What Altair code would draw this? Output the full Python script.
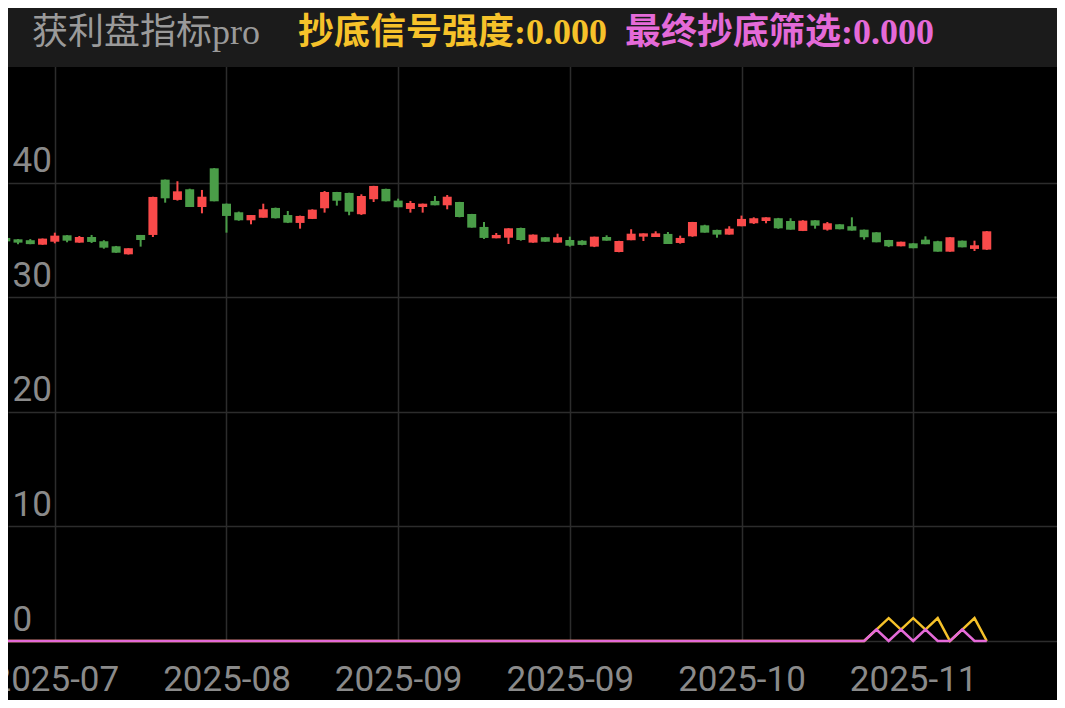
import altair as alt
import pandas as pd

# ---------------- data ----------------
# trading days (Mainland China, National Day holiday Oct 1-8 closed)
trade_dates = [d.strftime("%Y-%m-%d") for d in pd.bdate_range("2025-07-21", "2025-11-18")
               if not ("2025-10-01" <= d.strftime("%Y-%m-%d") <= "2025-10-08")]

open_ = [35.20, 35.08, 35.00, 34.61, 34.87, 35.43, 34.79, 35.28, 34.91, 34.47,
         33.77, 35.46, 35.46, 40.29, 38.52, 39.45, 37.90, 41.28, 38.19, 37.44,
         36.74, 36.97, 37.82, 37.20, 36.51, 36.86, 37.79, 39.21, 39.13, 37.27,
         38.58, 39.48, 38.46, 37.73, 37.90, 38.43, 38.05, 38.34, 37.29, 36.16,
         35.17, 35.22, 36.07, 34.79, 35.26, 34.79, 35.02, 34.96, 34.44, 35.28,
         33.97, 35.00, 35.31, 35.28, 35.55, 34.76, 35.34, 36.30, 35.90, 35.49,
         36.22, 36.48, 36.68, 36.92, 36.68, 35.81, 36.74, 35.92, 36.39, 36.22,
         35.92, 35.69, 35.02, 34.47, 34.73, 35.05, 34.91, 34.00, 34.96, 34.24,
         34.18]
high = [35.30, 35.10, 35.10, 35.15, 35.66, 35.45, 35.37, 35.46, 35.00, 34.50,
        34.30, 35.46, 38.80, 40.30, 40.15, 39.50, 39.39, 41.30, 38.20, 37.50,
        37.20, 38.19, 37.85, 37.55, 37.15, 37.70, 39.30, 39.22, 39.15, 39.01,
        39.75, 39.50, 38.63, 38.43, 38.20, 38.86, 38.95, 38.35, 37.30, 36.59,
        35.63, 36.05, 36.10, 35.50, 35.27, 35.57, 35.31, 35.00, 35.31, 35.43,
        34.95, 35.96, 35.60, 35.78, 35.72, 35.40, 36.60, 36.35, 35.92, 36.22,
        37.15, 37.00, 37.00, 36.95, 36.92, 36.75, 36.75, 36.59, 36.40, 37.00,
        35.93, 35.70, 35.03, 34.87, 34.74, 35.34, 34.95, 35.26, 34.97, 34.96,
        35.80]
low = [34.80, 34.65, 34.65, 34.60, 34.73, 34.82, 34.78, 34.76, 34.26, 33.90,
       33.75, 34.44, 35.28, 38.28, 38.46, 37.90, 37.35, 38.40, 35.66, 36.70,
       36.39, 36.97, 36.90, 36.50, 36.01, 36.85, 37.41, 38.02, 37.18, 37.21,
       38.34, 38.40, 37.88, 37.41, 37.41, 38.05, 37.70, 37.00, 36.10, 35.11,
       35.17, 34.67, 34.96, 34.78, 34.86, 34.78, 34.44, 34.56, 34.40, 34.96,
       33.95, 35.00, 34.93, 35.28, 34.67, 34.70, 35.30, 35.66, 35.22, 35.49,
       36.22, 36.42, 36.48, 36.00, 35.92, 35.80, 36.01, 35.84, 35.95, 35.84,
       35.05, 34.82, 34.40, 34.47, 34.30, 34.65, 34.00, 34.00, 34.38, 34.06,
       34.15]
close = [34.90, 34.79, 34.66, 35.14, 35.40, 34.96, 35.28, 34.85, 34.35, 33.91,
         34.30, 35.02, 38.78, 38.66, 39.27, 37.90, 38.80, 38.40, 37.12, 36.74,
         37.20, 37.70, 36.92, 36.53, 37.12, 37.67, 39.21, 38.45, 37.49, 38.86,
         39.74, 38.40, 37.88, 38.25, 38.19, 38.05, 38.80, 37.03, 36.10, 35.20,
         35.46, 36.04, 35.02, 35.49, 34.87, 35.26, 34.52, 34.59, 35.31, 34.96,
         34.93, 35.57, 35.60, 35.60, 34.67, 35.20, 36.59, 35.66, 35.49, 36.01,
         36.86, 36.92, 37.00, 36.04, 35.92, 36.71, 36.27, 36.48, 35.96, 35.84,
         35.26, 34.82, 34.47, 34.87, 34.30, 34.65, 34.00, 35.26, 34.38, 34.56,
         35.78]
# 抄底信号强度 (yellow) and 最终抄底筛选 (pink)
signal_strength = [0, 0, 0, 0, 0, 0, 0, 0, 0, 0,
                   0, 0, 0, 0, 0, 0, 0, 0, 0, 0,
                   0, 0, 0, 0, 0, 0, 0, 0, 0, 0,
                   0, 0, 0, 0, 0, 0, 0, 0, 0, 0,
                   0, 0, 0, 0, 0, 0, 0, 0, 0, 0,
                   0, 0, 0, 0, 0, 0, 0, 0, 0, 0,
                   0, 0, 0, 0, 0, 0, 0, 0, 0, 0,
                   0, 1, 2, 1, 2, 1, 2, 0, 1, 2,
                   0]
final_filter = [0, 0, 0, 0, 0, 0, 0, 0, 0, 0,
                0, 0, 0, 0, 0, 0, 0, 0, 0, 0,
                0, 0, 0, 0, 0, 0, 0, 0, 0, 0,
                0, 0, 0, 0, 0, 0, 0, 0, 0, 0,
                0, 0, 0, 0, 0, 0, 0, 0, 0, 0,
                0, 0, 0, 0, 0, 0, 0, 0, 0, 0,
                0, 0, 0, 0, 0, 0, 0, 0, 0, 0,
                0, 1, 0, 1, 0, 1, 0, 0, 1, 0,
                0]
y_ticks = [0, 10, 20, 30, 40]
x_tick_idx = [4, 18, 32, 46, 60, 74]

df = pd.DataFrame({
    "n": list(range(len(trade_dates))),
    "date": trade_dates,
    "open": open_, "high": high, "low": low, "close": close,
    "strength": signal_strength, "final": final_filter,
})
df["dir"] = ["up" if c >= o else "down" for o, c in zip(open_, close)]

x_labels = [trade_dates[i][:7] for i in x_tick_idx]
label_expr = "".join(f"datum.value == {i} ? '{lab}' : " for i, lab in zip(x_tick_idx, x_labels)) + "''"

# ---------------- styling ----------------
W, H = 1049, 633
RED, GREEN = "#f94a4a", "#4a9d48"
YELLOW, PINK = "#f6c22a", "#e46ad8"
GRID = "#2c2c2c"
AXIS_FONT = "Roboto"
AXIS_SIZE = 35

xscale = alt.Scale(domain=[0.591, 85.32], nice=False, zero=False)
yscale = alt.Scale(domain=[0, 55.28], nice=False, zero=False)

x_axis = alt.Axis(values=x_tick_idx, labelExpr=label_expr, grid=True, gridColor=GRID,
                  gridWidth=1.5, domain=False, ticks=False, tickSize=0, labelPadding=21,
                  labelFont=AXIS_FONT, labelFontSize=AXIS_SIZE, labelColor="#8a8a8a",
                  labelOverlap=False, labelFlush=False, title=None)
y_axis = alt.Axis(values=y_ticks, grid=True, gridColor=GRID, gridWidth=1.5, domain=False,
                  ticks=False, tickSize=0, labelAlign="left", labelPadding=-4,
                  labelBaseline="alphabetic", labelOffset=-11, labelFont=AXIS_FONT,
                  labelFontSize=AXIS_SIZE, labelColor="#8a8a8a", title=None)

X = alt.X("n:Q", scale=xscale, axis=x_axis)
color = alt.Color("dir:N", scale=alt.Scale(domain=["up", "down"], range=[RED, GREEN]), legend=None)

base = alt.Chart(df)
wicks = base.mark_rule(strokeWidth=2).encode(
    x=X, y=alt.Y("low:Q", scale=yscale, axis=y_axis), y2="high:Q", color=color)
bodies = base.mark_bar(size=9).encode(
    x=X, y=alt.Y("open:Q", scale=yscale, axis=y_axis), y2="close:Q", color=color)
line_y = base.mark_line(color=YELLOW, strokeWidth=2.5).encode(
    x=X, y=alt.Y("strength:Q", scale=yscale, axis=y_axis))
line_p = base.mark_line(color=PINK, strokeWidth=2.5).encode(
    x=X, y=alt.Y("final:Q", scale=yscale, axis=y_axis))

header_bg = alt.Chart(pd.DataFrame({"k": [0]})).mark_rect(color="#1b1b1b").encode(
    x=alt.value(0), x2=alt.value(W), y=alt.value(0), y2=alt.value(59))

HFONT = "'Liberation Serif', 'Noto Sans CJK SC'"
t1 = alt.Chart(pd.DataFrame({"label": ["获利盘指标pro"]})).mark_text(
    align="left", baseline="middle", font=HFONT, fontSize=36, color="#9a9a9a").encode(
    x=alt.value(24), y=alt.value(25), text="label:N")
t2 = alt.Chart(pd.DataFrame({"label": [f"抄底信号强度:{signal_strength[-1]:.3f}"]})).mark_text(
    align="left", baseline="middle", font=HFONT, fontSize=36, fontWeight="bold", color=YELLOW).encode(
    x=alt.value(290), y=alt.value(25), text="label:N")
t3 = alt.Chart(pd.DataFrame({"label": [f"最终抄底筛选:{final_filter[-1]:.3f}"]})).mark_text(
    align="left", baseline="middle", font=HFONT, fontSize=36, fontWeight="bold", color=PINK).encode(
    x=alt.value(617), y=alt.value(25), text="label:N")

chart = alt.layer(wicks, bodies, line_y, line_p, header_bg, t1, t2, t3).properties(
    width=W, height=H,
    autosize=alt.AutoSizeParams(type="none"),
    padding={"left": 0, "top": 0, "right": 0, "bottom": 59},
    background="#000000",
).configure_view(stroke=None)

chart.save("out.html", embed_options={"renderer": "svg", "actions": False})
